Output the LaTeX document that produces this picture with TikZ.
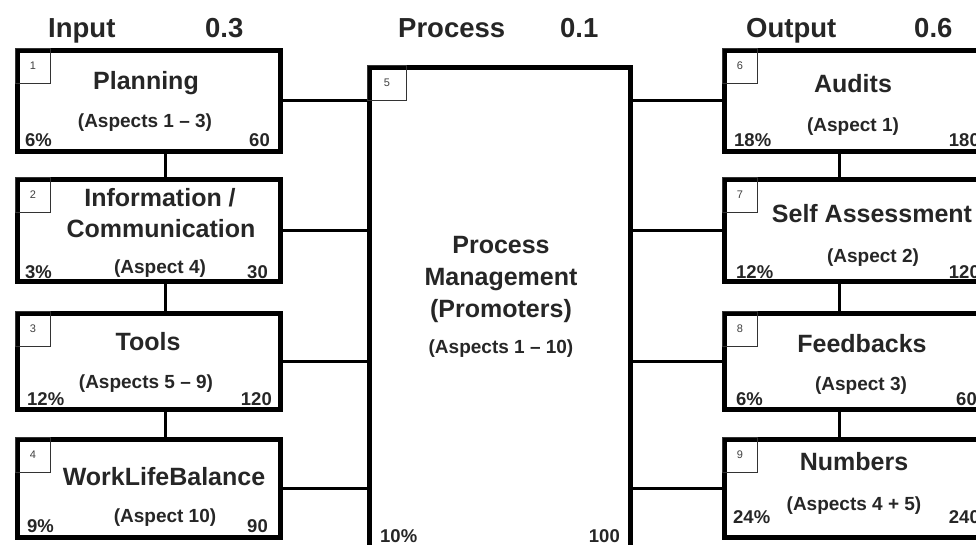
\documentclass[tikz,border=0pt]{standalone}
\usepackage{fontspec}
\setmainfont{Liberation Sans}
\begin{document}
\begin{tikzpicture}[x=1pt,y=-1pt,
  box/.style={draw=black, line width=5pt, rectangle, inner sep=0pt, fill=white},
  numbox/.style={draw=black!80, line width=0.8pt, rectangle, inner sep=0pt, minimum width=35pt, minimum height=35pt, anchor=north west, font=\fontsize{11}{12}\selectfont, text=black!75},
  conn/.style={line width=3pt, draw=black},
  hdr/.style={font=\bfseries\fontsize{27.5}{30}\selectfont, anchor=base west, inner sep=0pt, text=black!85},
  ttl/.style={font=\bfseries\fontsize{25}{28}\selectfont, anchor=base, inner sep=0pt, text=black!85},
  asp/.style={font=\bfseries\fontsize{19}{22}\selectfont, anchor=base, inner sep=0pt, text=black!85},
  crl/.style={font=\bfseries\fontsize{18.5}{20}\selectfont, anchor=base west, inner sep=0pt, text=black!85},
  crr/.style={crl, anchor=base east}]
\useasboundingbox (0,0) rectangle (976,545);
\clip (0,0) rectangle (976,545);
\fill[white] (0,0) rectangle (976,545);

% headers
\node[hdr] (hin) at (48,38) {Input};
\node[hdr] (hinv) at (205,38) {0.3};
\node[hdr] (hpr) at (398,38) {Process};
\node[hdr] (hprv) at (560,38) {0.1};
\node[hdr] (hout) at (746,38) {Output};
\node[hdr] (houtv) at (914,38) {0.6};

% left boxes
\node[box, minimum width=263pt, minimum height=101pt] (b1) at (149,101) {};
\node[box, minimum width=263pt, minimum height=102pt] (b2) at (149,230.5) {};
\node[box, minimum width=263pt, minimum height=96pt] (b3) at (149,361.5) {};
\node[box, minimum width=263pt, minimum height=98pt] (b4) at (149,488.5) {};
% process box
\node[box, minimum width=261pt, minimum height=532pt] (p) at (500,333.75) {};
% right boxes
\node[box, minimum width=271pt, minimum height=101pt] (b6) at (860,101) {};
\node[box, minimum width=271pt, minimum height=102pt] (b7) at (860,230.5) {};
\node[box, minimum width=271pt, minimum height=96pt] (b8) at (860,361.5) {};
\node[box, minimum width=271pt, minimum height=98pt] (b9) at (860,488.5) {};

% number boxes
\node[numbox] (n1) at (b1.north west) {1};
\node[numbox] (n2) at (b2.north west) {2};
\node[numbox] (n3) at (b3.north west) {3};
\node[numbox] (n4) at (b4.north west) {4};
\node[numbox, minimum width=39pt] (n5) at (p.north west) {5};
\node[numbox] (n6) at (b6.north west) {6};
\node[numbox] (n7) at (b7.north west) {7};
\node[numbox] (n8) at (b8.north west) {8};
\node[numbox] (n9) at (b9.north west) {9};

% connectors
\draw[conn] (b1.east) -- (b1.east -| p.west);
\draw[conn] (b2.east) -- (b2.east -| p.west);
\draw[conn] (b3.east) -- (b3.east -| p.west);
\draw[conn] (b4.east) -- (b4.east -| p.west);
\draw[conn] (b6.west -| p.east) -- (b6.west);
\draw[conn] (b7.west -| p.east) -- (b7.west);
\draw[conn] (b8.west -| p.east) -- (b8.west);
\draw[conn] (b9.west -| p.east) -- (b9.west);
\draw[conn] ([xshift=16pt]b1.south) -- ([xshift=16pt]b2.north);
\draw[conn] ([xshift=16pt]b2.south) -- ([xshift=16pt]b3.north);
\draw[conn] ([xshift=16pt]b3.south) -- ([xshift=16pt]b4.north);
\draw[conn] ([xshift=-21pt]b6.south) -- ([xshift=-21pt]b7.north);
\draw[conn] ([xshift=-21pt]b7.south) -- ([xshift=-21pt]b8.north);
\draw[conn] ([xshift=-21pt]b8.south) -- ([xshift=-21pt]b9.north);

% box 1
\node[ttl] (t1) at (146,90) {Planning};
\node[asp] (a1) at (145,128) {(Aspects 1 – 3)};
\node[crl] (l1) at (25,147) {6\%};
\node[crr] (r1) at (270,147) {60};
% box 2
\node[ttl] (t2a) at (160,207) {Information /};
\node[ttl] (t2b) at (161,237) {Communication};
\node[asp] (a2) at (160,273) {(Aspect 4)};
\node[crl] (l2) at (25,278) {3\%};
\node[crr] (r2) at (268,278) {30};
% box 3
\node[ttl] (t3) at (148,350) {Tools};
\node[asp] (a3) at (146,388) {(Aspects 5 – 9)};
\node[crl] (l3) at (27,405) {12\%};
\node[crr] (r3) at (272,405) {120};
% box 4
\node[ttl] (t4) at (164,485) {WorkLifeBalance};
\node[asp] (a4) at (165,522) {(Aspect 10)};
\node[crl] (l4) at (27,532) {9\%};
\node[crr] (r4) at (268,532) {90};
% process
\node[ttl] (tp1) at (501,253) {Process};
\node[ttl] (tp2) at (501,285) {Management};
\node[ttl] (tp3) at (501,317) {(Promoters)};
\node[asp] (ap) at (501,353) {(Aspects 1 – 10)};
\node[crl] (lp) at (380,542) {10\%};
\node[crr] (rp) at (620,542) {100};
% box 6
\node[ttl] (t6) at (853,93) {Audits};
\node[asp] (a6) at (853,132) {(Aspect 1)};
\node[crl] (l6) at (734,147) {18\%};
\node[crr] (r6) at (980,147) {180};
% box 7
\node[ttl] (t7) at (872,223) {Self Assessment};
\node[asp] (a7) at (873,262) {(Aspect 2)};
\node[crl] (l7) at (736,278) {12\%};
\node[crr] (r7) at (980,278) {120};
% box 8
\node[ttl] (t8) at (862,352) {Feedbacks};
\node[asp] (a8) at (861,390) {(Aspect 3)};
\node[crl] (l8) at (736,405) {6\%};
\node[crr] (r8) at (977,405) {60};
% box 9
\node[ttl] (t9) at (854,470) {Numbers};
\node[asp] (a9) at (854,510) {(Aspects 4 + 5)};
\node[crl] (l9) at (733,523) {24\%};
\node[crr] (r9) at (980,523) {240};
\end{tikzpicture}
\end{document}
